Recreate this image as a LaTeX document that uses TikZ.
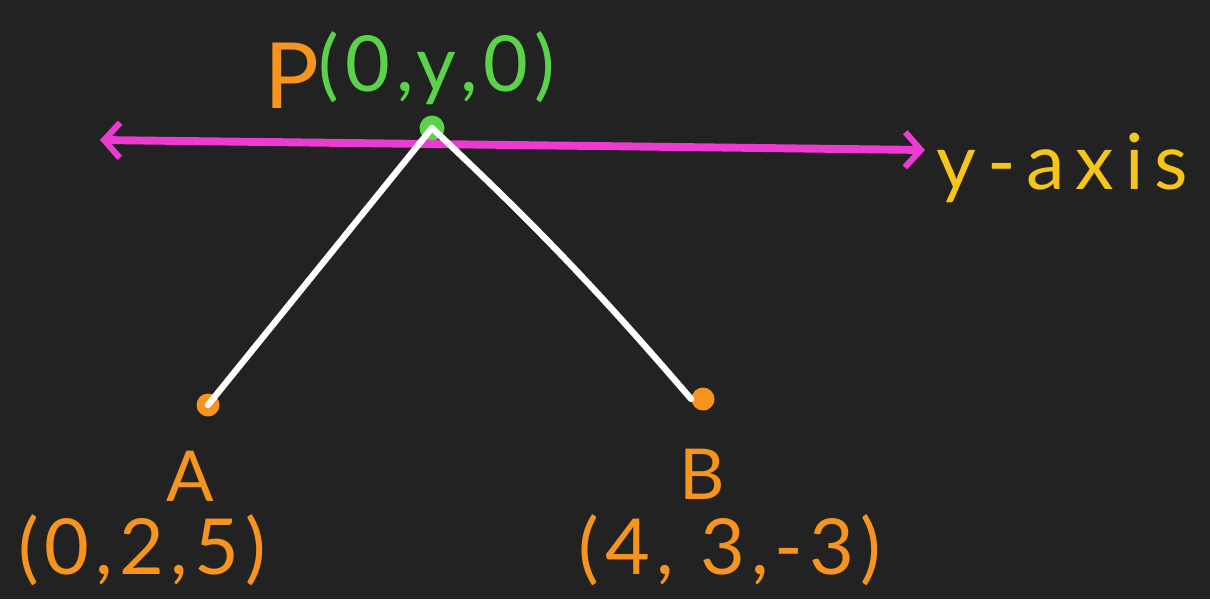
\documentclass[tikz,border=0pt]{standalone}
\usepackage{fontspec}
\setmainfont{Lato}
\usetikzlibrary{arrows.meta}
\definecolor{bg}{HTML}{222222}
\definecolor{hor}{HTML}{F7941D}
\definecolor{hgr}{HTML}{5AD34A}
\definecolor{hmag}{HTML}{EC3BD0}
\definecolor{hyel}{HTML}{F5C518}
\tikzset{
  lbl/.style={inner sep=0pt, font=\fontsize{40}{48}\selectfont},
  coord/.style={inner sep=0pt, font=\fontsize{44}{50}\selectfont\addfontfeature{LetterSpace=8}},
  dotnode/.style={circle, inner sep=0pt, minimum size=#1},
  wire/.style={white, line width=3.6pt, line cap=round},
  axisline/.style={hmag, line width=4.5pt, line cap=round, line join=round,
    {Straight Barb[length=9pt,width=20pt,line width=3.5pt]}-{Straight Barb[length=9pt,width=20pt,line width=3.5pt]}}
}
\begin{document}
\begin{tikzpicture}[x=0.02cm,y=-0.02cm]
\fill[bg] (0,0) rectangle (1210,599);
\useasboundingbox (0,0) rectangle (1210,599);
% axis
\coordinate (yl) at (100,140);
\coordinate (yr) at (925,150);
\draw[axisline] (yl) -- (yr);
\node[lbl, text=hyel, anchor=west, font=\fontsize{44}{50}\selectfont\addfontfeature{LetterSpace=14}] (yax) at (936,168) {y-axis};
% points
\node[dotnode=0.5cm, fill=hgr] (P) at (432,128) {};
\node[dotnode=0.46cm, fill=hor] (A) at (208,405) {};
\node[dotnode=0.46cm, fill=hor] (B) at (703,399) {};
\draw[wire] (P.center) -- (A.center);
\draw[wire] (P.center) to[bend left=3] (B.west);
% labels
\node[lbl, text=hor, anchor=east, font=\fontsize{52}{60}\selectfont] (Plbl) at (320,76) {P};
\node[coord, text=hgr, anchor=west] (Pco) at (318,68) {(0,y,0)};
\node[lbl, text=hor] (Albl) at (190,476) {A};
\node[coord, text=hor] (Aco) at (142,550) {(0,2,5)};
\node[lbl, text=hor] (Blbl) at (702,474) {B};
\node[coord, text=hor] (Bco) at (730,550) {(4, 3,-3)};
\end{tikzpicture}
\end{document}
